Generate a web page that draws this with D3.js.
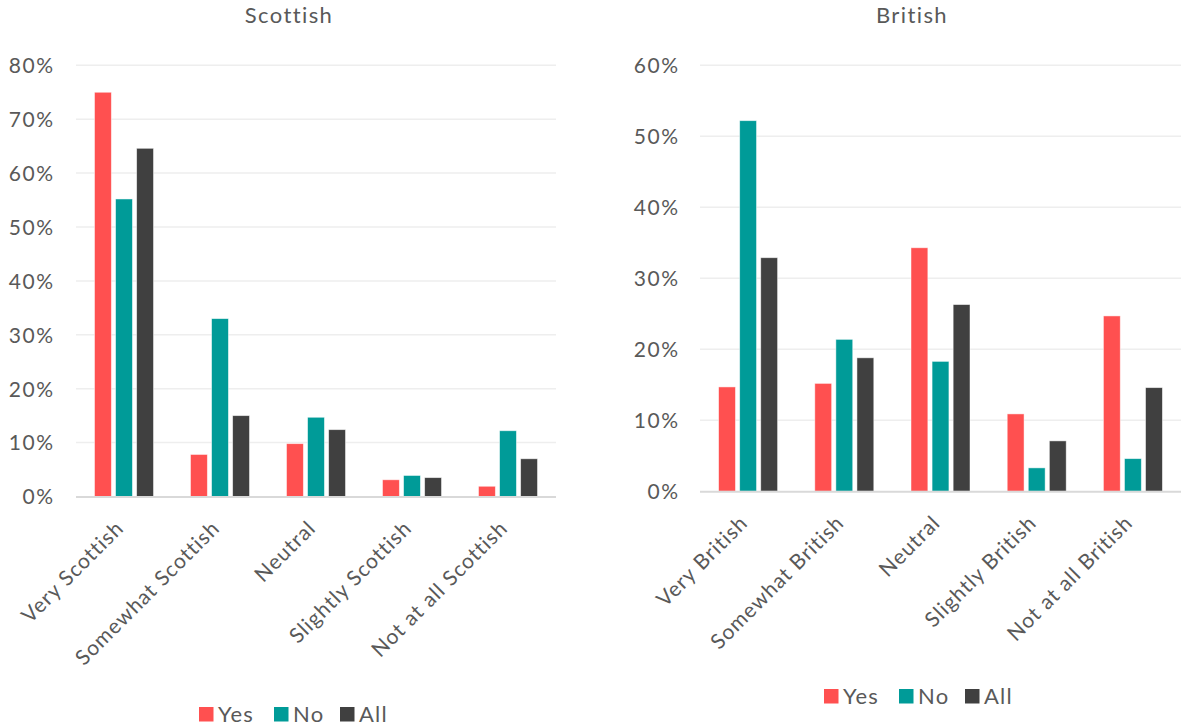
<!DOCTYPE html>
<html><head><meta charset="utf-8">
<script src="https://cdn.jsdelivr.net/npm/d3@7"></script>
<style>
body{margin:0;background:#fff;}
svg text{font-family:Lato,"Open Sans",sans-serif;fill:#595959;}
</style></head>
<body><svg id="c" width="1184" height="726"></svg>
<script>
const seriesNames = ["Yes","No","All"];
const seriesColors = ["#FF5050","#009B98","#404040"];

const scottishCats = ["Very Scottish","Somewhat Scottish","Neutral","Slightly Scottish","Not at all Scottish"];
const scottishYes = [75.0, 7.8, 9.8, 3.1, 1.9];
const scottishNo  = [55.2, 33.0, 14.7, 3.9, 12.2];
const scottishAll = [64.6, 15.0, 12.4, 3.5, 7.0];
const scottishTicks = [0,10,20,30,40,50,60,70,80];

const britishCats = ["Very British","Somewhat British","Neutral","Slightly British","Not at all British"];
const britishYes = [14.7, 15.2, 34.3, 10.9, 24.7];
const britishNo  = [52.2, 21.4, 18.3, 3.3, 4.6];
const britishAll = [32.9, 18.8, 26.3, 7.1, 14.6];
const britishTicks = [0,10,20,30,40,50,60];

const svg = d3.select("#c");

function panel(cfg){
  const g = svg.append("g");
  const x = d3.scaleBand().domain(cfg.cats).range([cfg.x0, cfg.x1]);
  const xs = d3.scaleBand().domain(seriesNames).range([-29.5, 29.5]).paddingInner(0.2);
  const y = d3.scaleLinear().domain([0, cfg.max]).range([cfg.y0, cfg.yTop]);

  // gridlines
  g.selectAll(".grid").data(cfg.ticks.filter(t=>t>0)).join("line")
    .attr("x1", cfg.x0).attr("x2", cfg.x1)
    .attr("y1", d=>y(d)).attr("y2", d=>y(d))
    .attr("stroke", "#EEEEEE").attr("stroke-width", 1.5);

  // y labels
  const ya = d3.axisLeft(y).tickValues(cfg.ticks).tickFormat(d=>d+"%").tickSize(0).tickPadding(0);
  const yg = g.append("g").attr("transform", `translate(${cfg.labelX+1.5},0)`).call(ya);
  yg.select(".domain").remove();
  yg.selectAll("text").style("font-size","21px").style("letter-spacing","1.5px")
    .attr("fill","#595959").attr("dy","0.35em");

  const series = [cfg.yes, cfg.no, cfg.all];
  series.forEach((vals, si)=>{
    g.selectAll(".b"+si).data(vals).join("rect")
      .attr("x", (d,i)=> x(cfg.cats[i]) + x.bandwidth()/2 + xs(seriesNames[si]))
      .attr("width", xs.bandwidth())
      .attr("y", d=>y(d))
      .attr("height", d=> cfg.y0 - y(d))
      .attr("fill", seriesColors[si])
      .attr("stroke", "rgba(255,255,255,0.6)").attr("stroke-width", 0.8);
  });

  // baseline
  g.append("line").attr("x1", cfg.x0).attr("x2", cfg.x1)
    .attr("y1", cfg.y0+0.5).attr("y2", cfg.y0+0.5)
    .attr("stroke", "#D9D9D9").attr("stroke-width", 2);

  // category labels
  g.selectAll(".cat").data(cfg.cats).join("text")
    .attr("transform", d=>`translate(${x(d)+x.bandwidth()/2+1},${cfg.y0+33}) rotate(-45)`)
    .attr("text-anchor","end")
    .style("font-size","21px").style("letter-spacing","1px")
    .text(d=>d);

  // title
  g.append("text").attr("x", cfg.titleX).attr("y", 23).attr("text-anchor","middle")
    .style("font-size","22px").style("letter-spacing","1.4px").text(cfg.title);

  // legend
  const lg = g.append("g");
  seriesNames.forEach((n,i)=>{
    lg.append("rect").attr("x", cfg.legX[i]).attr("y", cfg.legY-15).attr("width",14.5).attr("height",14.5)
      .attr("fill", seriesColors[i]);
    lg.append("text").attr("x", cfg.legX[i]+19).attr("y", cfg.legY).style("font-size","22px")
      .style("letter-spacing","1.2px").text(n);
  });
}

panel({title:"Scottish", titleX:289, cats:scottishCats, yes:scottishYes, no:scottishNo, all:scottishAll,
  ticks:scottishTicks, max:80, x0:76, x1:556, y0:496.5, yTop:65.3, labelX:53,
  legX:[199,274,340], legY:722});
panel({title:"British", titleX:912, cats:britishCats, yes:britishYes, no:britishNo, all:britishAll,
  ticks:britishTicks, max:60, x0:700, x1:1181, y0:491.3, yTop:65.3, labelX:678,
  legX:[824,899,965], legY:704});
</script></body></html>
